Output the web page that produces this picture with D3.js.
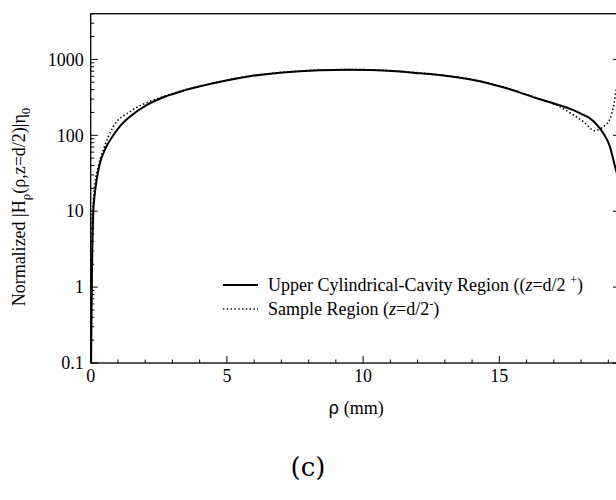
<!DOCTYPE html>
<html><head><meta charset="utf-8">
<script src="https://cdn.jsdelivr.net/npm/d3@7"></script>
<style>body{margin:0;background:#fff}svg{display:block}text{font-family:"Liberation Serif","Times New Roman",serif;fill:#000}</style>
</head><body>
<svg id="c" width="616" height="500"></svg>
<script>
const solidData = [[0.015,0.1],[0.03,0.5],[0.05,2],[0.07,5],[0.095,10],[0.15,17],[0.22,26],[0.34,43],[0.55,68],[0.83,100],[1.1,135],[1.44,176],[2.05,250],[2.6,310],[3.28,375],[4.5,484],[5.73,592],[6.95,668],[8.4,720],[9.5,730],[10.25,725],[11.2,700],[12.1,656],[12.8,622],[14.05,536],[15.27,416],[16.49,298],[17.2,250],[17.72,215],[18.1,185],[18.33,167],[18.6,135],[18.82,106],[19.06,71],[19.25,38.5],[19.4,25]];
const dottedData = [[0.015,0.1],[0.03,0.7],[0.05,3],[0.07,8],[0.1,14],[0.16,23],[0.3,42],[0.46,64],[0.83,130],[1.44,205],[2.05,269],[2.6,318],[3.28,380],[4.5,488],[5.73,596],[6.95,672],[8.4,725],[9.5,735],[10.25,730],[11.2,705],[12.1,662],[12.8,628],[14.05,540],[15.27,420],[16.49,300],[17.1,250],[17.72,185],[18.1,150],[18.5,115],[18.75,125],[19.06,165],[19.2,250],[19.3,420],[19.4,600]];
const xTicks = [0,5,10,15];
const yTicks = [0.1,1,10,100,1000];
const yTickLabels = ["0.1","1","10","100","1000"];

const svg = d3.select("#c");
const L=90.7,R=620,T=13.7,B=363;
const x = d3.scaleLinear().domain([0,19.43]).range([L,R]);
const y = d3.scaleLog().domain([0.1,4000]).range([B,T]);

const g = svg.append("g");
g.append("rect").attr("x",L).attr("y",T).attr("width",R-L).attr("height",B-T).attr("fill","none").attr("stroke","#000").attr("stroke-width",1.3);

const minorY=[];
for(let e=-1;e<4;e++){for(let m=1;m<10;m++){const v=+(m*Math.pow(10,e)).toPrecision(3); if(v>=0.1&&v<=4000) minorY.push(v);}}
minorY.forEach(v=>{
  const major = yTicks.includes(v);
  const len = major?7:3.5;
  g.append("line").attr("x1",L).attr("x2",L+len).attr("y1",y(v)).attr("y2",y(v)).attr("stroke","#000").attr("stroke-width",1);
  g.append("line").attr("x1",R).attr("x2",R-len).attr("y1",y(v)).attr("y2",y(v)).attr("stroke","#000").attr("stroke-width",1);
});
yTicks.forEach((v,i)=>{
  g.append("text").attr("x",L-7).attr("y",y(v)).attr("dy","0.35em").attr("text-anchor","end").attr("font-size",18).text(yTickLabels[i]);
});
d3.range(0,20,1).forEach(v=>{
  const major = xTicks.includes(v);
  const len = major?7:3.5;
  g.append("line").attr("x1",x(v)).attr("x2",x(v)).attr("y1",B).attr("y2",B-len).attr("stroke","#000").attr("stroke-width",1);
});
xTicks.forEach(v=>{
  g.append("text").attr("x",x(v)).attr("y",B+19).attr("text-anchor","middle").attr("font-size",18).text(v);
});

const line = d3.line().x(d=>x(d[0])).y(d=>y(d[1])).curve(d3.curveMonotoneX);
svg.append("defs").append("clipPath").attr("id","clip").append("rect").attr("x",L).attr("y",T).attr("width",R-L).attr("height",B-T);
g.append("path").attr("d",line(dottedData)).attr("fill","none").attr("stroke","#000").attr("stroke-width",1.6).attr("stroke-dasharray","1.4,2.4").attr("clip-path","url(#clip)");
g.append("path").attr("d",line(solidData)).attr("fill","none").attr("stroke","#000").attr("stroke-width",2).attr("clip-path","url(#clip)");

const lx1=223,lx2=258,tx=268;
const ly1=285, ly2=309;
g.append("line").attr("x1",lx1).attr("x2",lx2).attr("y1",ly1).attr("y2",ly1).attr("stroke","#000").attr("stroke-width",2);
g.append("line").attr("x1",lx1).attr("x2",lx2).attr("y1",ly2).attr("y2",ly2).attr("stroke","#000").attr("stroke-width",1.6).attr("stroke-dasharray","1.4,2.4");
const t1 = g.append("text").attr("x",tx).attr("y",ly1).attr("dy","0.35em").attr("font-size",18);
t1.append("tspan").text("Upper Cylindrical-Cavity Region ((");
t1.append("tspan").attr("font-style","italic").text("z");
t1.append("tspan").text("=d/2 ");
t1.append("tspan").attr("dy","-7").attr("font-size",12).text("+");
t1.append("tspan").attr("dy","7").text(")");
const t2 = g.append("text").attr("x",tx).attr("y",ly2).attr("dy","0.35em").attr("font-size",18);
t2.append("tspan").text("Sample Region (");
t2.append("tspan").attr("font-style","italic").text("z");
t2.append("tspan").text("=d/2");
t2.append("tspan").attr("dy","-7").attr("font-size",12).text("-");
t2.append("tspan").attr("dy","7").text(")");

const xl = g.append("text").attr("x",356).attr("y",414).attr("text-anchor","middle").attr("font-size",18);
xl.append("tspan").style("font-family","'DejaVu Sans',sans-serif").attr("font-size",17).text("ρ");
xl.append("tspan").text(" (mm)");
const yl = g.append("text").attr("transform","translate(25,207) rotate(-90)").attr("text-anchor","middle").attr("font-size",18);
yl.append("tspan").text("Normalized |H");
yl.append("tspan").attr("dy","5").attr("font-size",13).text("ρ");
yl.append("tspan").attr("dy","-5").text("(ρ,z=d/2)|η");
yl.append("tspan").attr("dy","5").attr("font-size",13).text("0");

svg.append("text").attr("x",308).attr("y",476).attr("text-anchor","middle").attr("font-size",26).style("font-family","'DejaVu Serif',serif").text("(c)");
</script>
</body></html>
